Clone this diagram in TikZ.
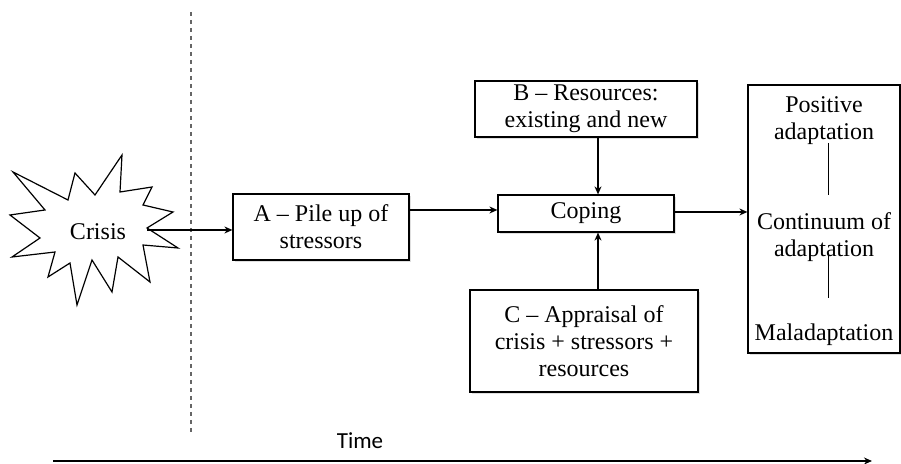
\documentclass[tikz,border=0pt]{standalone}
\usepackage{fontspec}
\setmainfont{Liberation Serif}
\newfontfamily\axisfont{Carlito}
\usetikzlibrary{arrows.meta,shadows}

\tikzset{
  stagebox/.style={draw, fill=white, line width=0.6pt, align=center, inner sep=2pt,
    font=\fontsize{12}{13.5}\selectfont,
    drop shadow={opacity=0.25, shadow xshift=1.2pt, shadow yshift=-1.2pt}},
  stagetext/.style={align=center, inner sep=0pt, font=\fontsize{12}{13.5}\selectfont},
  flow/.style={-{Stealth[length=4pt,width=3.5pt]}, line width=0.8pt}
}

\begin{document}
\begin{tikzpicture}[x=0.5pt,y=-0.5pt]
  \useasboundingbox (0,0) rectangle (901,464);
  % event line
  \draw[black!60, line width=0.6pt, dash pattern=on 2pt off 2pt] (191,12) -- (191,432);
  % crisis burst
  \draw[line width=0.6pt, fill=white] (13,172) -- (68,200) -- (75,173) -- (95,195) -- (122,155)
    -- (120,192) -- (152,187) -- (143,205) -- (173,212) -- (147,228) -- (178,248) -- (143,245)
    -- (150,282) -- (118,257) -- (112,292) -- (92,260) -- (77,305) -- (70,263) -- (48,277)
    -- (55,252) -- (12,257) -- (40,238) -- (10,215) -- (45,210) -- cycle;
  \node[stagetext] (crisis) at (98,232) {Crisis};
  \coordinate (burst) at (147,230);
  % stages
  \node[stagebox, minimum width=88pt, minimum height=33pt] (pile) at (321,227)
    {A -- Pile up of\\stressors};
  \node[stagebox, minimum width=88pt, minimum height=18.5pt] (coping) at (586,213.5) {Coping};
  \node[stagebox, minimum width=111pt, minimum height=26pt] (resources) at (586,109)
    {B -- Resources:\\existing and new};
  \node[stagebox, minimum width=114pt, minimum height=51pt] (appraisal) at (584,341)
    {C -- Appraisal of\\crisis + stressors +\\resources};
  \node[stagebox, minimum width=76pt, minimum height=134pt] (adapt) at (824,219) {};
  \node[stagetext] (positive) at (824,121) {Positive\\adaptation};
  \node[stagetext] (continuum) at (824,237) {Continuum of\\adaptation};
  \node[stagetext] (mal) at (824,335) {Maladaptation};
  \coordinate (flowrow) at (0,210);
  \coordinate (vcol) at (598,0);
  \coordinate (scale) at (828,0);
  % connectors
  \draw[flow] (burst) -- (pile.west |- burst);
  \draw[flow] (pile.east |- flowrow) -- (coping.west |- flowrow);
  \draw[flow] (resources.south -| vcol) -- (coping.north -| vcol);
  \draw[flow] (appraisal.north -| vcol) -- (coping.south -| vcol);
  \draw[flow] (coping.east |- 0,212) -- (adapt.west |- 0,212);
  \draw[line width=0.5pt] (scale |- 0,143) -- (scale |- 0,195);
  \draw[line width=0.5pt] (scale |- 0,253) -- (scale |- 0,298);
  % time axis
  \coordinate (tstart) at (53,461);
  \coordinate (tend) at (872,461);
  \draw[flow, line width=1.2pt] (tstart) -- (tend);
  \node[font=\axisfont\fontsize{11.5}{13}\selectfont, inner sep=0pt] (time) at (360,441) {Time};
\end{tikzpicture}
\end{document}
